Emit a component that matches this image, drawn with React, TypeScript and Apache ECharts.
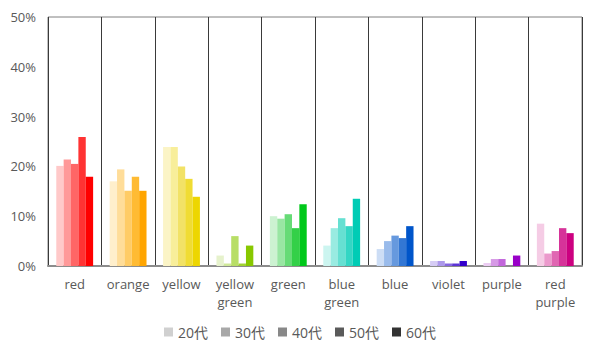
import React, { useEffect, useRef } from "react";
import * as echarts from "echarts";

const categories = ["red", "orange", "yellow", "yellow\ngreen", "green", "blue\ngreen", "blue", "violet", "purple", "red\npurple"];
const seriesNames = ["20代", "30代", "40代", "50代", "60代"];
const legendColors = ["#D0D0D0", "#A8A8A8", "#888888", "#5A5A5A", "#333333"];

const v20 = [20.1, 17.0, 23.9, 2.1, 10.0, 4.1, 3.4, 1.0, 0.6, 8.5];
const v30 = [21.4, 19.4, 23.9, 0.5, 9.5, 7.6, 5.0, 1.0, 1.4, 2.5];
const v40 = [20.5, 15.1, 20.0, 6.0, 10.4, 9.6, 6.1, 0.5, 1.4, 3.0];
const v50 = [25.9, 17.9, 17.5, 0.5, 7.6, 8.0, 5.6, 0.5, 0, 7.6];
const v60 = [17.9, 15.1, 13.9, 4.1, 12.4, 13.5, 8.0, 1.0, 2.1, 6.6];
const values = [v20, v30, v40, v50, v60];

// shades per category, index = age group
const palette = [
  ["#FFC9C9", "#FF9999", "#FF6666", "#FF3333", "#FF0000"],
  ["#FFEFCC", "#FFDD99", "#FFCC66", "#FFBB33", "#FFA500"],
  ["#FBF4C6", "#F8EE9A", "#F2E266", "#F0DC33", "#EDD600"],
  ["#E6F2CC", "#CFE899", "#B8DE66", "#A0D233", "#88C800"],
  ["#CCF2D1", "#99E6A3", "#66DB76", "#33D048", "#00C81A"],
  ["#CCF5F0", "#99EBE1", "#66E0D2", "#33D6C4", "#00CCB5"],
  ["#CCDDF5", "#99BBEB", "#6699DE", "#3377D4", "#0055CA"],
  ["#D6CCF5", "#AD99EB", "#8566E0", "#5C33D6", "#3300CC"],
  ["#EBCCF2", "#D699E6", "#C266DB", "#AD33D0", "#9900C8"],
  ["#F5CCE5", "#EB99CC", "#E066B2", "#D63399", "#CC0080"],
];

export default function App() {
  const ref = useRef<HTMLDivElement>(null);
  useEffect(() => {
    if (!ref.current) return;
    const chart = echarts.init(ref.current, null, { renderer: "svg" });
    const font = "'Open Sans', 'Noto Sans CJK JP', sans-serif";
    chart.setOption({
      animation: false,
      textStyle: { fontFamily: font },
      grid: { left: 48, right: 18, top: 17, bottom: 92, show: true, borderColor: "#808080", borderWidth: 1 },
      legend: {
        bottom: 14,
        left: "center",
        itemWidth: 9,
        itemHeight: 9,
        itemGap: 13,
        icon: "rect",
        textStyle: { color: "#595959", fontSize: 14, fontFamily: font },
        data: seriesNames,
      },
      xAxis: {
        type: "category",
        data: categories,
        axisLine: { lineStyle: { color: "#8C8C8C", width: 2 } },
        axisTick: { show: false },
        splitLine: { show: true, lineStyle: { color: "#3A3A3A", width: 1 } },
        axisLabel: { color: "#595959", fontSize: 13, lineHeight: 18, margin: 9, interval: 0 },
      },
      yAxis: {
        type: "value",
        min: 0,
        max: 50,
        interval: 10,
        axisLine: { show: false },
        axisTick: { show: false },
        splitLine: { show: false },
        axisLabel: { color: "#595959", fontSize: 13, margin: 12, formatter: "{value}%" },
      },
      series: seriesNames.map((name, si) => ({
        name,
        type: "bar",
        barGap: "0%",
        barCategoryGap: "31%",
        itemStyle: { color: legendColors[si] },
        data: values[si].map((v, ci) => ({ value: v, itemStyle: { color: palette[ci][si] } })),
      })),
    });
    return () => chart.dispose();
  }, []);
  return <div ref={ref} style={{ position: "absolute", left: 0, top: 0, width: 600, height: 358 }} />;
}
